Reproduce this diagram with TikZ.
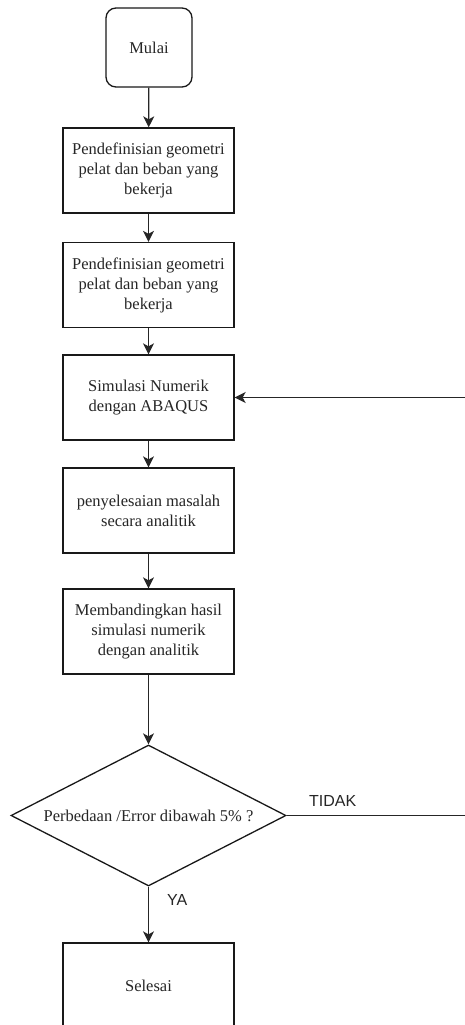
\documentclass[tikz,border=0pt]{standalone}
\usepackage{fontspec}
\setmainfont{Liberation Serif}
\newfontfamily\labelfont{Liberation Sans}
\usetikzlibrary{shapes.geometric,arrows.meta}
\begin{document}
\begin{tikzpicture}[x=1pt,y=-1pt,
  every node/.style={font=\fontsize{16.5}{20}\selectfont, text=black!85},
  proc/.style={draw=black!90, line width=1.3pt, rectangle, minimum width=171pt, minimum height=85pt, inner sep=0pt, align=center},
  startbox/.style={draw=black!90, line width=1.3pt, rectangle, rounded corners=10pt, minimum width=86pt, minimum height=79pt, inner sep=0pt, align=center},
  decision/.style={draw=black!90, line width=1.3pt, diamond, aspect=1.95, minimum width=275pt, minimum height=141pt, inner sep=0pt, align=center},
  flow/.style={draw=black!85, line width=1.3pt, -{Stealth[length=11pt,width=11pt,inset=3pt]}},
  lbl/.style={font=\labelfont\fontsize{16}{19}\selectfont, inner sep=0pt}
]
\useasboundingbox (0,0) rectangle (465,1025);
\clip (0,0) rectangle (465,1025);
\fill[white] (0,0) rectangle (465,1025);

\node[startbox] (mulai) at (149,47.5) {Mulai};
\node[proc] (geo1) at (148.5,170.5) {Pendefinisian geometri\\pelat dan beban yang\\bekerja};
\node[proc] (geo2) at (148.5,285) {Pendefinisian geometri\\pelat dan beban yang\\bekerja};
\node[proc] (sim) at (148.5,397.5) {Simulasi Numerik\\dengan ABAQUS};
\node[proc] (ana) at (148.5,510.5) {penyelesaian masalah\\secara analitik};
\node[proc] (band) at (148.5,631.5) {Membandingkan hasil\\simulasi numerik\\dengan analitik};
\node[decision] (dec) at (148.5,815.5) {Perbedaan /Error dibawah 5\% ?};
\node[proc] (selesai) at (148.5,985.5) {Selesai};

\coordinate (fbA) at (475,815.5);
\coordinate (fbB) at (475,397.5);

\draw[flow] (mulai) -- (geo1);
\draw[flow] (geo1) -- (geo2);
\draw[flow] (geo2) -- (sim);
\draw[flow] (sim) -- (ana);
\draw[flow] (ana) -- (band);
\draw[flow] (band) -- (dec);
\draw[flow] (dec) -- (selesai);
\draw[flow] (dec.east) -- (fbA) -- (fbB) -- (sim.east);

\node[lbl, anchor=west] (tidak) at (309,801) {TIDAK};
\node[lbl, anchor=west] (ya) at (167,900) {YA};
\end{tikzpicture}
\end{document}
